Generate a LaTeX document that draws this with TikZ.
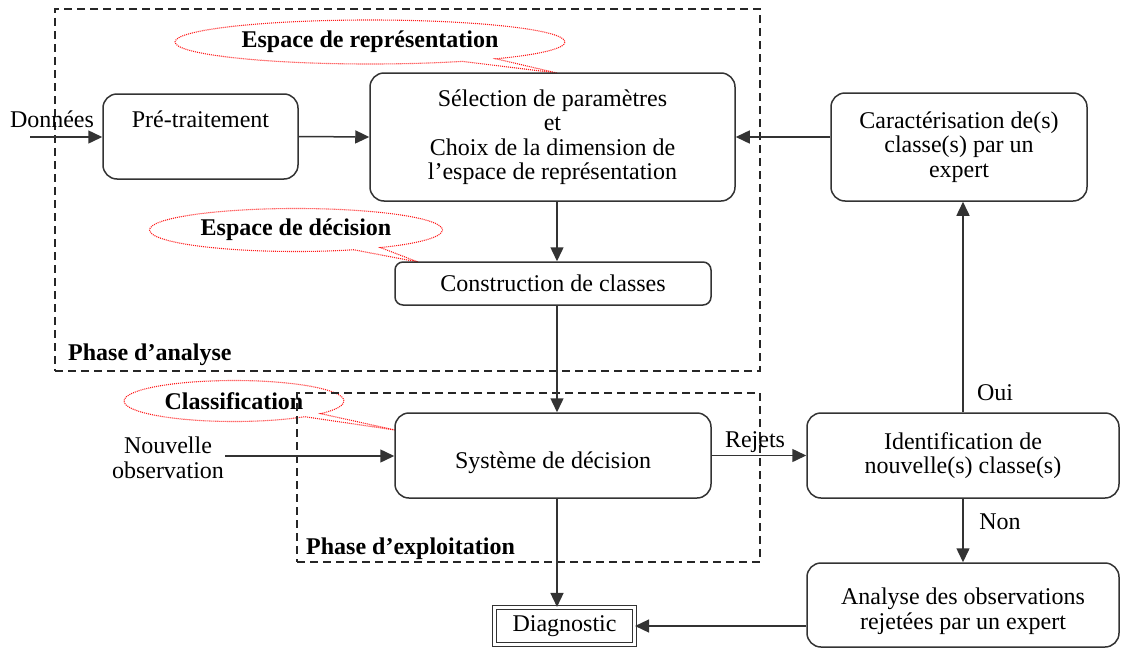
\documentclass[tikz,border=0pt]{standalone}
\usepackage{fontspec}
\setmainfont{Liberation Serif}
\usetikzlibrary{arrows.meta,shapes.callouts,calc}
\begin{document}
\begin{tikzpicture}[x=1pt,y=-1pt,
  box/.style={draw=black!80, line width=1.5pt, rounded corners=14pt, fill=white, inner sep=0pt},
  txt/.style={inner sep=0pt, align=center, font=\fontsize{24}{24.5}\selectfont},
  btxt/.style={inner sep=0pt, align=left, font=\fontsize{24}{24.5}\selectfont\bfseries},
  phase/.style={draw=black!85, line width=1.3pt, dash pattern=on 8pt off 5pt},
  bubble/.style={ellipse callout, draw=red!90, line width=1.1pt, dash pattern=on 1pt off 1pt, inner sep=0pt, callout pointer arc=12, font=\fontsize{24}{24.5}\selectfont\bfseries},
  arr/.style={draw=black!80, line width=1.5pt, -{Triangle[length=14pt,width=13pt]}},
]
\useasboundingbox (0,0) rectangle (1122,648);

% callout tips
\coordinate (tiprep) at (557,73);
\coordinate (tipdec) at (418,262);
\coordinate (tipcls) at (395,430);

% bubbles
\node[bubble, minimum width=390pt, minimum height=44pt, callout absolute pointer={(tiprep)}] (brep) at (370,42) {Espace de représentation};
\node[bubble, minimum width=293pt, minimum height=43pt, callout absolute pointer={(tipdec)}] (bdec) at (296,230) {Espace de décision};
\node[bubble, minimum width=220pt, minimum height=41pt, callout absolute pointer={(tipcls)}] (bcls) at (234,401) {Classification};

% phase boxes
\node[phase, minimum width=705pt, minimum height=362pt, inner sep=0pt] (phA) at (407.5,190) {};
\node[phase, minimum width=463pt, minimum height=169pt, inner sep=0pt] (phE) at (528.5,477.5) {};
\node[btxt, anchor=west] (phAtxt) at (68,355) {Phase d’analyse};
\node[btxt, anchor=west] (phEtxt) at (306,549) {Phase d’exploitation};

% boxes
\node[box, minimum width=195pt, minimum height=85pt] (pre) at (200.5,136.5) {};
\node[txt] (pretxt) at (200.5,119) {Pré-traitement};

\node[box, minimum width=365pt, minimum height=128pt, txt] (sel) at (552.5,137) {Sélection de paramètres\\et\\Choix de la dimension de\\l’espace de représentation};

\node[box, minimum width=256pt, minimum height=108pt, txt] (car) at (959,147) {Caractérisation de(s)\\classe(s) par un\\expert};

\node[box, rounded corners=8pt, minimum width=316pt, minimum height=43pt, txt] (cons) at (553,283.5) {Construction de classes};

\node[box, minimum width=316pt, minimum height=85pt] (sys) at (553,455.5) {};
\node[txt] (systxt) at (553,463) {Système de décision};

\node[box, minimum width=312pt, minimum height=85pt, txt] (ident) at (963,455.5) {Identification de\\nouvelle(s) classe(s)};

\node[box, minimum width=312pt, minimum height=84pt] (ana) at (963,605) {};
\node[txt] (anatxt) at (963,611) {Analyse des observations\\rejetées par un expert};

\node[draw=black!80, line width=1.1pt, double=white, double distance=3pt, fill=white, minimum width=140pt, minimum height=37pt, txt] (diag) at (564.5,626) {Diagnostic};

% free labels
\node[txt] (don) at (52,119) {Données};
\node[txt] (nouv) at (168,458) {Nouvelle\\observation};
\node[txt] (rej) at (755,442) {Rejets};
\node[txt] (oui) at (995,393) {Oui};
\node[txt] (non) at (1000,522) {Non};

% connectors
\coordinate (donS) at (30,137);
\coordinate (nouvS) at (225,456);
\coordinate (col) at (557,0);
\draw[arr] (donS) -- (pre.west |- donS);
\draw[arr] (pre.east) -- (sel.west);
\draw[arr] (car.west |- sel.east) -- (sel.east);
\draw[arr] (sel.south -| col) -- (cons.north -| col);
\draw[arr] (cons.south -| col) -- (sys.north -| col);
\draw[arr] (sys.south -| col) -- (diag.north -| col);
\draw[arr] (nouvS) -- (sys.west |- nouvS);
\draw[arr] (sys.east) -- (ident.west);
\draw[arr] (ident.north) -- (car.south -| ident.north);
\draw[arr] (ident.south) -- (ana.north);
\draw[arr] (ana.west |- diag.east) -- (diag.east);
\end{tikzpicture}
\end{document}
